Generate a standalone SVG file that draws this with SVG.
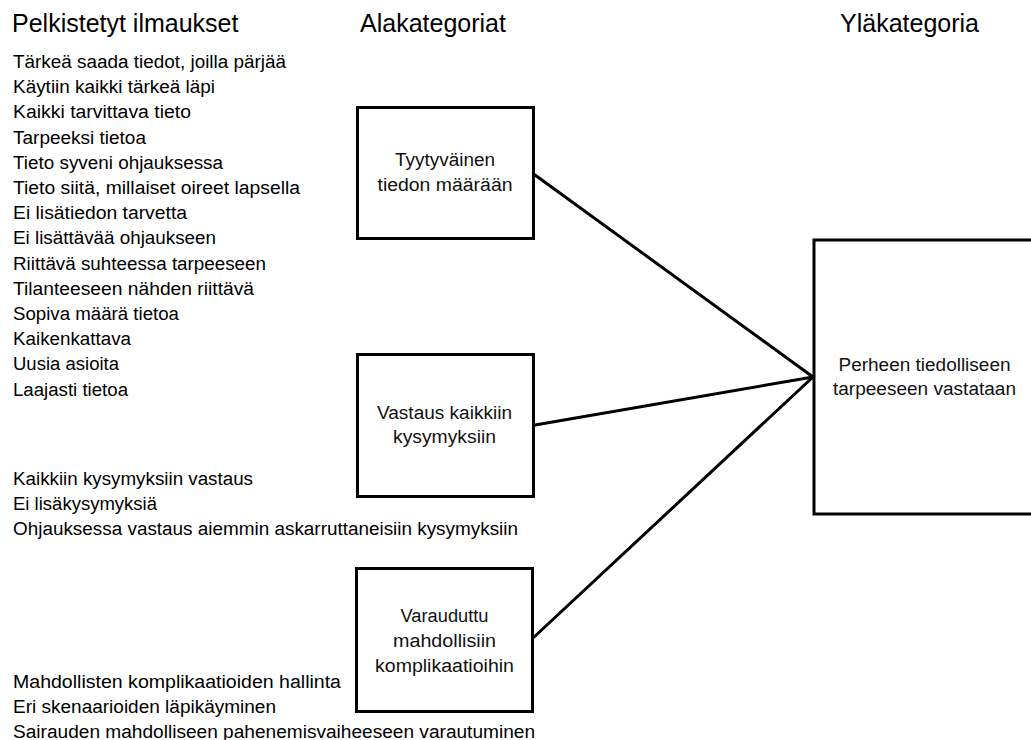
<svg xmlns="http://www.w3.org/2000/svg" width="1031" height="740" viewBox="0 0 1031 740">
  <style>
    .head { font-family: "Liberation Sans", Arial, sans-serif; font-size: 25px; fill: #000; }
    .item { font-family: "Liberation Sans", Arial, sans-serif; font-size: 18px; fill: #000; }
    .label { font-family: "Liberation Sans", Arial, sans-serif; font-size: 18px; fill: #111; text-anchor: middle; }
    .box { fill: #fff; stroke: #000; stroke-width: 3; }
    .link { stroke: #000; stroke-width: 3; fill: none; stroke-linecap: round; }
  </style>
  <rect width="1031" height="740" fill="#fff"/>

  <!-- column headings -->
  <g id="headings">
    <text class="head" x="12" y="32">Pelkistetyt ilmaukset</text>
    <text class="head" x="360" y="32">Alakategoriat</text>
    <text class="head" x="840" y="32">Yläkategoria</text>
  </g>

  <!-- reduced expressions, first group -->
  <g id="expressions-1">
    <text class="item" x="13" y="68" textLength="273" lengthAdjust="spacingAndGlyphs">Tärkeä saada tiedot, joilla pärjää</text>
    <text class="item" x="13" y="93.2" textLength="202" lengthAdjust="spacingAndGlyphs">Käytiin kaikki tärkeä läpi</text>
    <text class="item" x="13" y="118.4" textLength="178" lengthAdjust="spacingAndGlyphs">Kaikki tarvittava tieto</text>
    <text class="item" x="13" y="143.6" textLength="133" lengthAdjust="spacingAndGlyphs">Tarpeeksi tietoa</text>
    <text class="item" x="13" y="168.8" textLength="210" lengthAdjust="spacingAndGlyphs">Tieto syveni ohjauksessa</text>
    <text class="item" x="13" y="194" textLength="287" lengthAdjust="spacingAndGlyphs">Tieto siitä, millaiset oireet lapsella</text>
    <text class="item" x="13" y="219.2" textLength="174" lengthAdjust="spacingAndGlyphs">Ei lisätiedon tarvetta</text>
    <text class="item" x="13" y="244.4" textLength="203" lengthAdjust="spacingAndGlyphs">Ei lisättävää ohjaukseen</text>
    <text class="item" x="13" y="269.6" textLength="253" lengthAdjust="spacingAndGlyphs">Riittävä suhteessa tarpeeseen</text>
    <text class="item" x="13" y="294.8" textLength="241" lengthAdjust="spacingAndGlyphs">Tilanteeseen nähden riittävä</text>
    <text class="item" x="13" y="320" textLength="166" lengthAdjust="spacingAndGlyphs">Sopiva määrä tietoa</text>
    <text class="item" x="13" y="345.2" textLength="118" lengthAdjust="spacingAndGlyphs">Kaikenkattava</text>
    <text class="item" x="13" y="370.4" textLength="106" lengthAdjust="spacingAndGlyphs">Uusia asioita</text>
    <text class="item" x="13" y="395.6" textLength="115" lengthAdjust="spacingAndGlyphs">Laajasti tietoa</text>
  </g>

  <!-- reduced expressions, second group -->
  <g id="expressions-2">
    <text class="item" x="13" y="485" textLength="240" lengthAdjust="spacingAndGlyphs">Kaikkiin kysymyksiin vastaus</text>
    <text class="item" x="13" y="510" textLength="144" lengthAdjust="spacingAndGlyphs">Ei lisäkysymyksiä</text>
    <text class="item" x="13" y="535" textLength="505" lengthAdjust="spacingAndGlyphs">Ohjauksessa vastaus aiemmin askarruttaneisiin kysymyksiin</text>
  </g>

  <!-- reduced expressions, third group -->
  <g id="expressions-3">
    <text class="item" x="13" y="688" textLength="328" lengthAdjust="spacingAndGlyphs">Mahdollisten komplikaatioiden hallinta</text>
    <text class="item" x="13" y="713" textLength="263" lengthAdjust="spacingAndGlyphs">Eri skenaarioiden läpikäyminen</text>
    <text class="item" x="13" y="738" textLength="522" lengthAdjust="spacingAndGlyphs">Sairauden mahdolliseen pahenemisvaiheeseen varautuminen</text>
  </g>

  <!-- connectors from subcategories to the main category -->
  <g id="connectors">
    <line class="link" x1="535" y1="175" x2="813" y2="377"/>
    <line class="link" x1="535" y1="425" x2="813" y2="377"/>
    <line class="link" x1="533" y1="638" x2="813" y2="377"/>
  </g>

  <!-- subcategories -->
  <g id="sub-tyytyvainen">
    <rect class="box" x="357.5" y="107.5" width="176" height="131"/>
    <text class="label" x="445" y="166" textLength="100" lengthAdjust="spacingAndGlyphs">Tyytyväinen</text>
    <text class="label" x="445" y="191" textLength="135" lengthAdjust="spacingAndGlyphs">tiedon määrään</text>
  </g>

  <g id="sub-vastaus">
    <rect class="box" x="357.5" y="354.5" width="176" height="142"/>
    <text class="label" x="444.5" y="419" textLength="135" lengthAdjust="spacingAndGlyphs">Vastaus kaikkiin</text>
    <text class="label" x="444.5" y="443" textLength="103" lengthAdjust="spacingAndGlyphs">kysymyksiin</text>
  </g>

  <g id="sub-varauduttu">
    <rect class="box" x="356.5" y="568.5" width="176" height="143"/>
    <text class="label" x="444.5" y="622" textLength="88" lengthAdjust="spacingAndGlyphs">Varauduttu</text>
    <text class="label" x="444.5" y="647" textLength="103" lengthAdjust="spacingAndGlyphs">mahdollisiin</text>
    <text class="label" x="444.5" y="672" textLength="139" lengthAdjust="spacingAndGlyphs">komplikaatioihin</text>
  </g>

  <!-- main category -->
  <g id="main-category">
    <rect class="box" x="814" y="240" width="240" height="274"/>
    <text class="label" x="924.5" y="371" textLength="172" lengthAdjust="spacingAndGlyphs">Perheen tiedolliseen</text>
    <text class="label" x="924.5" y="395" textLength="183" lengthAdjust="spacingAndGlyphs">tarpeeseen vastataan</text>
  </g>
</svg>
